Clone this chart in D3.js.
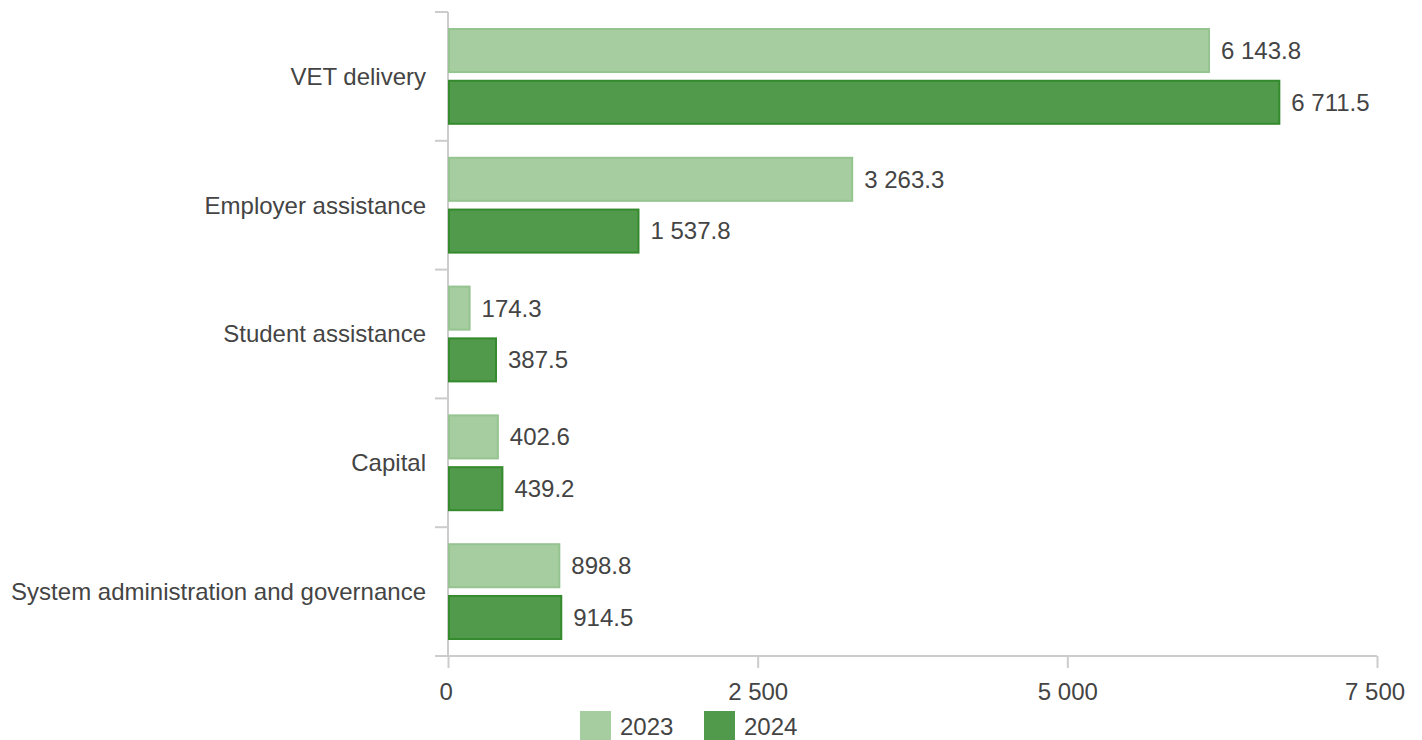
<!DOCTYPE html>
<html>
<head>
<meta charset="utf-8">
<script src="https://cdn.jsdelivr.net/npm/d3@7"></script>
<style>
  body { margin: 0; background: #fff; }
  svg text { font-family: "Liberation Sans", Arial, sans-serif; fill: #444; }
</style>
</head>
<body>
<svg id="chart" width="1422" height="740"></svg>
<script>
// Funding by category, 2023 vs 2024 ($ million)
const categories = ["VET delivery", "Employer assistance", "Student assistance", "Capital", "System administration and governance"];
const values2023 = [6143.8, 3263.3, 174.3, 402.6, 898.8];
const values2024 = [6711.5, 1537.8, 387.5, 439.2, 914.5];
const seriesNames = ["2023", "2024"];
const xTicks = [0, 2500, 5000, 7500];

const fills = ["#a6cda0", "#519a4b"];
const strokes = ["#96c490", "#358a2e"];
const FS = 24;

const svg = d3.select("#chart");
const margin = { left: 448, right: 45, top: 12, bottom: 84 };
const W = 1422, H = 740;

const x = d3.scaleLinear().domain([0, 7500]).range([margin.left, W - margin.right]);
const y = d3.scaleBand().domain(categories).range([margin.top, H - margin.bottom]);
const inner = d3.scaleBand().domain(seriesNames).range([16, y.bandwidth() - 16]).paddingInner(0.13);

const fmt = v => d3.format(",.1f")(v).replace(/,/g, " ");
const fmtTick = v => d3.format(",")(v).replace(/,/g, " ");

// category axis: vertical line, band boundary ticks and labels
const yAxis = svg.append("g").attr("transform", `translate(${margin.left},0)`);
const bounds = categories.map(c => y(c)).concat([y.range()[1]]);
yAxis.selectAll("line.bound").data(bounds).enter().append("line")
  .attr("class", "bound")
  .attr("x1", -13).attr("x2", 0)
  .attr("y1", d => d).attr("y2", d => d)
  .attr("stroke", "#ccc").attr("stroke-width", 2);
yAxis.append("line").attr("x1", 0).attr("x2", 0)
  .attr("y1", margin.top).attr("y2", H - margin.bottom)
  .attr("stroke", "#ccc").attr("stroke-width", 2);
yAxis.selectAll("text.cat").data(categories).enter().append("text")
  .attr("class", "cat")
  .attr("x", -22)
  .attr("y", d => y(d) + y.bandwidth() / 2)
  .attr("dy", "0.35em")
  .attr("text-anchor", "end")
  .attr("font-size", FS)
  .text(d => d);

// value axis
const xAxis = svg.append("g")
  .attr("transform", `translate(0,${H - margin.bottom})`)
  .call(d3.axisBottom(x).tickValues(xTicks).tickSize(12).tickPadding(15).tickFormat(fmtTick));
xAxis.select(".domain").attr("stroke", "#ccc").attr("stroke-width", 2)
  .attr("d", `M${margin.left - 13},0H${x(7500)}`);
xAxis.selectAll(".tick line").attr("stroke", "#ccc").attr("stroke-width", 2);
xAxis.selectAll(".tick text").attr("font-size", FS).style("fill", "#444")
  .attr("dx", (d, i) => (i === 0 || i === xTicks.length - 1) ? "-0.1em" : "0");

// bars with value labels
const series = [values2023, values2024];
series.forEach((vals, si) => {
  const g = svg.append("g");
  const data = categories.map((c, i) => ({ c, v: vals[i] }));
  g.selectAll("rect").data(data).enter().append("rect")
    .attr("x", x(0) + 1)
    .attr("y", d => y(d.c) + inner(seriesNames[si]) + 1)
    .attr("width", d => x(d.v) - x(0) - 1)
    .attr("height", inner.bandwidth() - 2)
    .attr("fill", fills[si])
    .attr("stroke", strokes[si])
    .attr("stroke-width", 2);
  g.selectAll("text").data(data).enter().append("text")
    .attr("x", d => x(d.v) + 12)
    .attr("y", d => y(d.c) + inner(seriesNames[si]) + inner.bandwidth() / 2)
    .attr("dy", "0.35em")
    .attr("font-size", FS)
    .text(d => fmt(d.v));
});

// legend
const legend = svg.append("g").attr("transform", "translate(580,711)");
const items = legend.selectAll("g").data(seriesNames).enter().append("g")
  .attr("transform", (d, i) => `translate(${i * 124},0)`);
items.append("rect").attr("width", 31).attr("height", 31).attr("fill", (d, i) => fills[i]);
items.append("text").attr("x", 40).attr("y", 24).attr("font-size", FS).text(d => d);
</script>
</body>
</html>
